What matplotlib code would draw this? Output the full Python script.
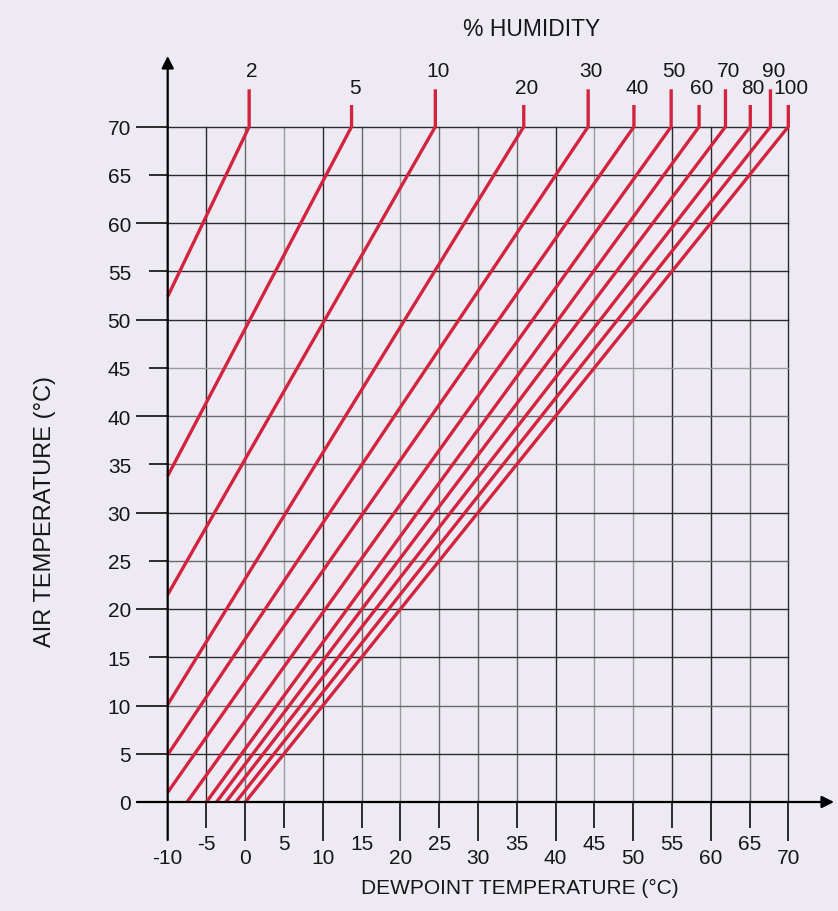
import matplotlib
matplotlib.use("Agg")
import matplotlib.pyplot as plt

# ---- data ----
humidity = [2, 5, 10, 20, 30, 40, 50, 60, 70, 80, 90, 100]
dew_at_top = [0.5, 13.7, 24.5, 35.9, 44.2, 50.1, 54.9, 58.5, 61.9, 65.1, 67.7, 70.0]   # dewpoint where air temp = 70
low_dew = [-10, -10, -10, -10, -10, -10, -7.5, -5.0, -3.7, -2.5, -1.2, 0.0]
low_air = [52.4, 33.8, 21.5, 10.1, 4.9, 1.0, 0, 0, 0, 0, 0, 0]
x_ticks = [-10, -5, 0, 5, 10, 15, 20, 25, 30, 35, 40, 45, 50, 55, 60, 65, 70]
y_ticks = [0, 5, 10, 15, 20, 25, 30, 35, 40, 45, 50, 55, 60, 65, 70]
top_air = 70

BG = "#EEEAF3"
RED = "#D2233F"
DARK = "#2b2b2b"
MID = "#6a6a6a"
LIGHT = "#9a9a9a"
TXT = "#161616"
FONT = "Liberation Sans"
FS = 15

plt.rcParams['font.family'] = [FONT, 'DejaVu Sans']

fig = plt.figure(figsize=(8.38, 9.11), dpi=100, facecolor=BG)
W, H = 838, 911
x0p, x1p, y0p, y1p = 167.7, 788.3, 802.0, 126.7
ax = fig.add_axes([x0p / W, 1 - y0p / H, (x1p - x0p) / W, (y0p - y1p) / H])
ax.set_facecolor(BG)
ax.set_xlim(-10, 70)
ax.set_ylim(0, 70)
ax.axis('off')

pxx = 80 / (x1p - x0p)   # degrees per pixel horizontally
pxy = 70 / (y0p - y1p)   # degrees per pixel vertically

# gridline styles
vcol = {-5: DARK, 0: MID, 5: LIGHT, 10: DARK, 15: MID, 20: LIGHT, 25: MID, 30: MID,
        35: MID, 40: DARK, 45: LIGHT, 50: LIGHT, 55: DARK, 60: DARK, 65: MID, 70: DARK}
hcol = {5: DARK, 10: MID, 15: DARK, 20: DARK, 25: MID, 30: DARK, 35: MID, 40: MID,
        45: LIGHT, 50: DARK, 55: DARK, 60: DARK, 65: DARK, 70: DARK}

# vertical grid + bottom tick stubs
for v in x_ticks:
    long_tick = (v % 10 == 0)
    ybot = -(840 - 802) * pxy if long_tick else -(827 - 802) * pxy
    ylab = -(858 - 802) * pxy if long_tick else -(844 - 802) * pxy
    ax.text(v, ylab, str(v), ha='center', va='center', fontsize=FS, color=TXT)
    if v == -10:
        continue
    ax.plot([v, v], [0, 70], color=vcol.get(v, DARK), lw=1.0, clip_on=False, zorder=1)
    ax.plot([v, v], [ybot, 0], color=DARK, lw=1.4, clip_on=False, zorder=1)

# horizontal grid + left tick stubs
for t in y_ticks:
    long_tick = (t % 10 == 0) or t == 5
    xl = -10 - (167.7 - 137) * pxx if long_tick else -10 - (167.7 - 150) * pxx
    if t > 0:
        ax.plot([-10, 70], [t, t], color=hcol.get(t, DARK), lw=1.0, clip_on=False, zorder=1)
    ax.plot([xl, -10], [t, t], color=DARK, lw=1.4, clip_on=False, zorder=1)
    ax.text(-10 - (167.7 - 131) * pxx, t - 0.3, str(t), ha='right', va='center',
            fontsize=FS, color=TXT)

# axes with arrows
ax.annotate('', xy=(-10, (802 - 56) * pxy), xytext=(-10, -(840 - 802) * pxy),
            arrowprops=dict(arrowstyle='-|>', color='black', lw=1.6, mutation_scale=18,
                            shrinkA=0, shrinkB=0), annotation_clip=False, zorder=4)
ax.annotate('', xy=(-10 + (834 - 167.7) * pxx, 0), xytext=(-10 - (167.7 - 137) * pxx, 0),
            arrowprops=dict(arrowstyle='-|>', color='black', lw=1.6, mutation_scale=18,
                            shrinkA=0, shrinkB=0), annotation_clip=False, zorder=4)

# humidity lines
for i, (rh, dtop, ld, la) in enumerate(zip(humidity, dew_at_top, low_dew, low_air)):
    high = (i % 2 == 0)
    tick_top = (802 - 89.3) * pxy if high else (802 - 105) * pxy
    ax.plot([ld, dtop, dtop], [la, top_air, tick_top], color=RED, lw=2.4,
            solid_joinstyle='round', solid_capstyle='butt', clip_on=False, zorder=3)
    lab_y = (802 - 71.5) * pxy if high else (802 - 88) * pxy
    ax.text(dtop + 3 * pxx, lab_y, str(rh), ha='center', va='center', fontsize=FS,
            color=TXT)

ax.text(-10 + (532 - 167.7) * pxx, (802 - 30) * pxy, '% HUMIDITY', ha='center', va='center',
        fontsize=16.5, color=TXT)
ax.text(-10 + (520 - 167.7) * pxx, -(888 - 802) * pxy, 'DEWPOINT TEMPERATURE (°C)',
        ha='center', va='center', fontsize=FS, color=TXT)
ax.text(-10 - (167.7 - 45) * pxx, (802 - 512) * pxy, 'AIR TEMPERATURE (°C)', rotation=90,
        ha='center', va='center', fontsize=17, color=TXT)

fig.savefig('out.png', dpi=100, facecolor=BG)
